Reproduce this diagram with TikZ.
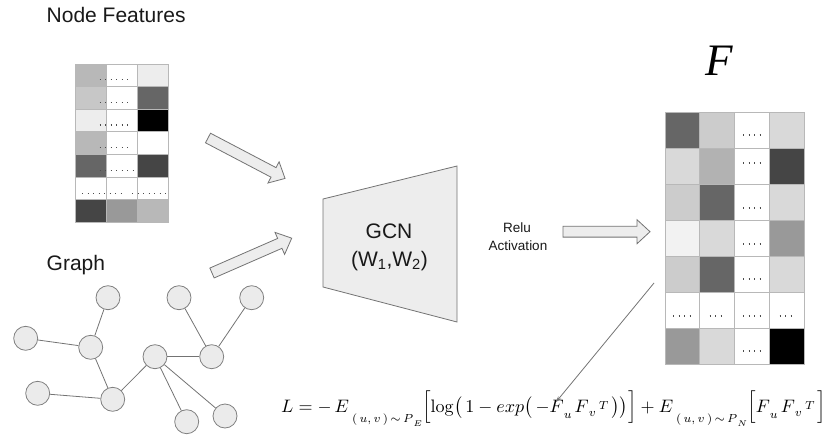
\documentclass[tikz,border=0pt]{standalone}
\usepackage[no-math]{fontspec}
\setsansfont{Liberation Sans}
\newfontfamily\serifF{Liberation Serif}
\usepackage{graphicx}
\usetikzlibrary{arrows.meta}
\newcommand{\dn}[2]{\raisebox{-#1pt}{\scalebox{0.92}{$\scriptstyle #2$}}}
\newcommand{\upT}{\raisebox{1.6pt}{\scalebox{0.92}{$\scriptstyle T$}}}
\tikzset{
  cell/.style={draw=black!28, line width=0.8pt},
  dotline/.style={draw=black!70, line width=1.3pt, dash pattern=on 1.3pt off 4.2pt},
  gnode/.style={circle, draw=black!50, fill=black!8, line width=0.8pt, minimum size=24pt, inner sep=0pt},
  gedge/.style={draw=black!55, line width=0.8pt},
  lbl/.style={font=\sffamily\fontsize{21}{24}\selectfont, text=black!90, inner sep=0pt},
  blockarrow/.pic={\draw[fill=black!7, draw=black!55, line width=0.8pt]
     (0,-5.4) -- (74,-5.4) -- (74,-12) -- (87,0) -- (74,12) -- (74,5.4) -- (0,5.4) -- cycle;}
}
\begin{document}
\begin{tikzpicture}[x=1pt,y=-1pt]
\useasboundingbox (0,0) rectangle (831,447);

% titles
\node[lbl, anchor=base west] (nftitle) at (46.5,23) {Node Features};
\node[lbl, anchor=base west] (gtitle) at (46.5,270) {Graph};

% node feature matrix
\foreach \r/\c/\k in {0/0/28,0/1/0,0/2/7,
                      1/0/22,1/1/0,1/2/60,
                      2/0/7,2/1/0,2/2/100,
                      3/0/28,3/1/0,3/2/0,
                      4/0/60,4/1/0,4/2/73,
                      5/0/0,5/1/0,5/2/0,
                      6/0/73,6/1/40,6/2/28}
  \filldraw[cell, fill=black!\k] ({75+31*\c},{64+22.6*\r}) rectangle ++(31,22.6);
\foreach \r in {0,1,2,3}
  \draw[dotline] (99.5,{79.5+22.7*\r}) -- (131,{79.5+22.7*\r});
\draw[dotline] (99.5,170.3) -- (136,170.3);
\draw[dotline] (82,193.3) -- (124,193.3);
\draw[dotline] (132,193.3) -- (168,193.3);

% F matrix
\node[anchor=base, inner sep=0pt, font=\serifF\itshape\fontsize{45}{50}\selectfont] (Flabel) at (719,75) {F};
\foreach \r/\c/\k in {0/0/60,0/1/20,0/2/0,0/3/15,
                      1/0/15,1/1/30,1/2/0,1/3/73,
                      2/0/20,2/1/60,2/2/0,2/3/15,
                      3/0/5,3/1/15,3/2/0,3/3/40,
                      4/0/20,4/1/60,4/2/0,4/3/15,
                      5/0/0,5/1/0,5/2/0,5/3/0,
                      6/0/40,6/1/15,6/2/0,6/3/100}
  \filldraw[cell, fill=black!\k] ({665+34.8*\c},{112.7+36*\r}) rectangle ++(34.8,36);
\foreach \y in {135,163,208,244,279,316,351}
  \draw[dotline] (743,\y) -- (761.5,\y);
\draw[dotline] (673,316) -- (691.5,316);
\draw[dotline] (709.5,316) -- (722.8,316);
\draw[dotline] (779.5,316) -- (792.8,316);

% graph
\node[gnode] (a) at (108,297.7) {};
\node[gnode] (b) at (25.7,338.3) {};
\node[gnode] (c) at (90.7,347.3) {};
\node[gnode] (d) at (37.7,393.3) {};
\node[gnode] (e) at (112.7,399.3) {};
\node[gnode] (f) at (155,356.7) {};
\node[gnode] (g) at (179,297.7) {};
\node[gnode] (h) at (251.7,297.7) {};
\node[gnode] (i) at (211.7,356.7) {};
\node[gnode] (j) at (186.7,421.7) {};
\node[gnode] (k) at (225,416) {};
\foreach \u/\v in {a/c,b/c,c/e,d/e,e/f,f/i,g/i,h/i,f/j,f/k}
  \draw[gedge] (\u) -- (\v);

% block arrows
\pic[rotate=-27.7] at (208,138) {blockarrow};
\pic[rotate=23.6] at (212,273) {blockarrow};
\pic at (563,231.7) {blockarrow};

% GCN trapezoid
\filldraw[fill=black!7, draw=black!55, line width=0.8pt]
  (323,199) -- (457,166) -- (457,322) -- (323,287) -- cycle;
\node[lbl, anchor=base] (gcn) at (389,238.3) {GCN};
\node[lbl, anchor=base] (w) at (389.5,266) {(W\textsubscript{1},W\textsubscript{2})};

% relu
\node[anchor=base, inner sep=0pt, font=\sffamily\fontsize{13.5}{16}\selectfont, text=black!90] (relu) at (517,232) {Relu};
\node[anchor=base, inner sep=0pt, font=\sffamily\fontsize{13.5}{16}\selectfont, text=black!90] (act) at (518,250) {Activation};

% loss
\node[anchor=base west, inner sep=0pt] (loss) at (281,412)
 {\resizebox{545pt}{!}{$L = -\,E\,\dn{6}{(\,u,\,v\,)\,{\sim}\,P\raisebox{-2pt}{$\scriptscriptstyle E$}}\Bigl[\log\bigl(\,1-exp\bigl(\,-F\dn{3.5}{u}\,F\dn{2.5}{v}\,\upT\,\bigr)\bigr)\Bigr] + E\,\dn{6}{(\,u,\,v\,)\,{\sim}\,P\raisebox{-2pt}{$\scriptscriptstyle N$}}\Bigl[F\dn{3.5}{u}\,F\dn{2.5}{v}\,\upT\,\Bigr]$}};

\coordinate (fa) at (654,283);
\coordinate (fb) at (556,402);
\draw[black!55, line width=0.8pt, -{Stealth[length=6pt,width=4pt]}] (fa) -- (fb);
\end{tikzpicture}
\end{document}
